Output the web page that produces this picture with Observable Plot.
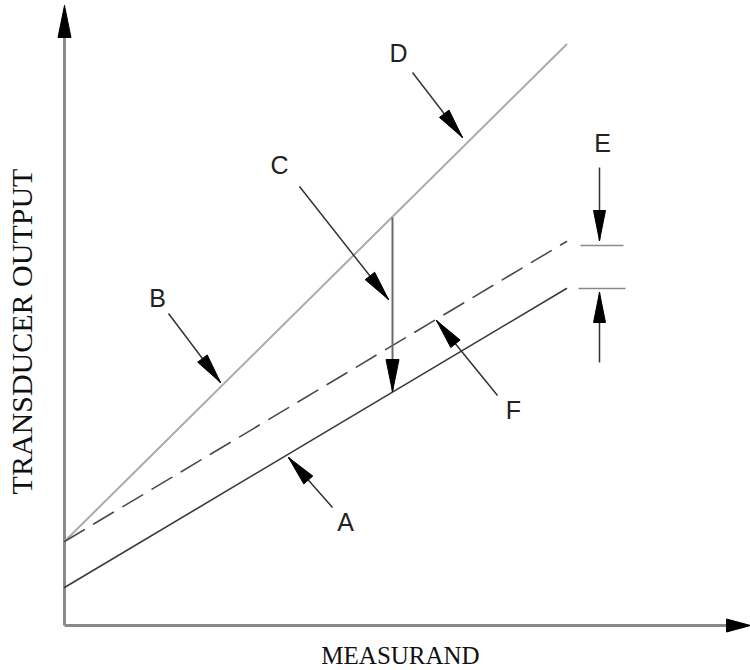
<!DOCTYPE html>
<html><head><meta charset="utf-8">
<script src="https://cdn.jsdelivr.net/npm/d3@7"></script>
<script src="https://cdn.jsdelivr.net/npm/@observablehq/plot@0.6"></script>
<style>body{margin:0;background:#fff}</style>
</head><body><div id="chart"></div>
<script>
// Measurand / output extents of the three characteristic lines (arbitrary units)
const measurandEnd = 502;
const outputD = [84, 581];     // line B / D (upper, solid light)
const outputF = [84, 384];     // dashed line F
const outputA = [38, 337];     // line A (lower, solid dark)

// Pointer arrows with letter labels
const pointerLabels = ["D", "C", "B", "A", "F"];
const pointerTailX = [348, 235, 104, 268, 433];
const pointerTailY = [553, 439, 312, 118, 230];
const pointerTipX  = [398, 324, 156, 224, 372];
const pointerTipY  = [488, 326, 243, 168, 305];
const labelX = [334, 215, 93, 281, 449];
const labelY = [572, 460, 327, 103, 215];

// Interval C (vertical) between line D and line A
const intervalX = 328;
const intervalY = [408, 234];

// E dimension (offset between dashed line and line A)
const eLabel = "E";
const eLabelPos = [538, 482];
const eTickY = [380, 337];
const eTickX = [[516, 559], [514, 561]];
const eArrowX = 535;
const eArrowDown = [458, 385];
const eArrowUp = [263, 333];

// Axes
const axisXEnd = 686;
const axisYEnd = 620;
const xTitle = "MEASURAND";
const yTitle = "TRANSDUCER OUTPUT";

// build tables
const lines = [
  {id: "D", x: 0, y: outputD[0]}, {id: "D", x: measurandEnd, y: outputD[1]},
  {id: "F", x: 0, y: outputF[0]}, {id: "F", x: measurandEnd, y: outputF[1]},
  {id: "A", x: 0, y: outputA[0]}, {id: "A", x: measurandEnd, y: outputA[1]}
];
const pointers = pointerLabels.map((l, i) => ({
  label: l, x1: pointerTailX[i], y1: pointerTailY[i], x2: pointerTipX[i], y2: pointerTipY[i],
  lx: labelX[i], ly: labelY[i]
}));
const shafts = [
  ...pointers.map(p => ({x1: p.x1, y1: p.y1, x2: p.x2, y2: p.y2, kind: "ptr"})),
  {x1: eArrowX, y1: eArrowDown[0], x2: eArrowX, y2: eArrowDown[1], kind: "ptr"},
  {x1: eArrowX, y1: eArrowUp[0], x2: eArrowX, y2: eArrowUp[1], kind: "ptr"}
];
const interval = {x1: intervalX, y1: intervalY[0], x2: intervalX, y2: intervalY[1]};

function head(a, id, L, W) {
  const dx = a.x2 - a.x1, dy = a.y2 - a.y1, len = Math.hypot(dx, dy);
  const ux = dx / len, uy = dy / len, nx = -uy, ny = ux;
  const bx = a.x2 - ux * L, by = a.y2 - uy * L;
  return [
    {id, x: a.x2, y: a.y2},
    {id, x: bx + nx * W, y: by + ny * W},
    {id, x: bx - nx * W, y: by - ny * W},
    {id, x: a.x2, y: a.y2}
  ];
}
const heads = [
  ...shafts.map((s, i) => head(s, "s" + i, 30, 6)).flat(),
  ...head(interval, "iv", 32, 6.5)
];
const axisHeads = [
  ...head({x1: 0, y1: 0, x2: 0, y2: axisYEnd}, "ay", 32, 6.5),
  ...head({x1: 0, y1: 0, x2: axisXEnd, y2: 0}, "ax", 24, 6.5)
];
const eTicks = eTickY.map((y, i) => ({x1: eTickX[i][0], x2: eTickX[i][1], y}));

const chart = Plot.plot({
  width: 750, height: 670,
  marginLeft: 64, marginRight: 0, marginTop: 0, marginBottom: 45,
  x: {domain: [0, 686], axis: null},
  y: {domain: [0, 625], axis: null},
  marks: [
    // axes
    Plot.link([{x1: 0, y1: 0, x2: 0, y2: axisYEnd - 25}], {x1: "x1", y1: "y1", x2: "x2", y2: "y2", stroke: "#8a8a8a", strokeWidth: 3}),
    Plot.link([{x1: 0, y1: 0, x2: axisXEnd - 20, y2: 0}], {x1: "x1", y1: "y1", x2: "x2", y2: "y2", stroke: "#8a8a8a", strokeWidth: 3}),
    Plot.line(axisHeads, {x: "x", y: "y", z: "id", fill: "#000", stroke: "#000", strokeWidth: 1}),
    // characteristic lines
    Plot.line(lines.filter(d => d.id === "D"), {x: "x", y: "y", stroke: "#aaaaaa", strokeWidth: 2}),
    Plot.line(lines.filter(d => d.id === "F"), {x: "x", y: "y", stroke: "#4a4a4a", strokeWidth: 1.6, strokeDasharray: "23,11"}),
    Plot.line(lines.filter(d => d.id === "A"), {x: "x", y: "y", stroke: "#3a3a3a", strokeWidth: 1.6}),
    // interval C
    Plot.link([interval], {x1: "x1", y1: "y1", x2: "x2", y2: "y2", stroke: "#6a6a6a", strokeWidth: 2}),
    // E ticks
    Plot.link(eTicks, {x1: "x1", x2: "x2", y1: "y", y2: "y", stroke: "#8a8a8a", strokeWidth: 1.5}),
    // pointer shafts
    Plot.link(shafts, {x1: "x1", y1: "y1", x2: "x2", y2: "y2", stroke: "#333", strokeWidth: 1.5}),
    Plot.line(heads, {x: "x", y: "y", z: "id", fill: "#000", stroke: "#000", strokeWidth: 1}),
    // letter labels
    Plot.text(pointers, {x: "lx", y: "ly", text: "label", fontSize: 25, fontFamily: "Liberation Sans", fill: "#222", textAnchor: "middle"}),
    Plot.text([eLabel], {x: eLabelPos[0], y: eLabelPos[1], text: d => d, fontSize: 25, fontFamily: "Liberation Sans", fill: "#222", textAnchor: "middle"}),
    // axis titles
    Plot.text([xTitle], {x: 336, y: -30, text: d => d, fontSize: 25, fontFamily: "Liberation Serif", fill: "#111", textAnchor: "middle"}),
    Plot.text([yTitle], {x: -42, y: 294, text: d => d, rotate: -90, fontSize: 30, fontFamily: "Liberation Serif", fill: "#111", textAnchor: "middle"})
  ]
});
document.getElementById("chart").appendChild(chart);
</script>
</body></html>
